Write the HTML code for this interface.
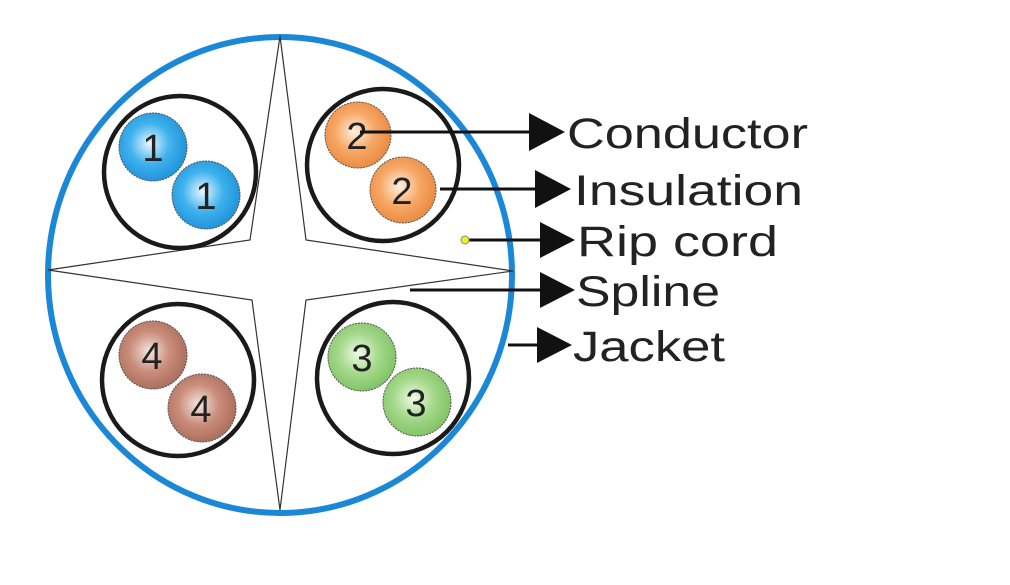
<!DOCTYPE html>
<html><head><style>html,body{margin:0;padding:0;background:#fff;}svg{display:block}</style></head>
<body>
<svg width="1010" height="585" viewBox="0 0 1010 585" xmlns="http://www.w3.org/2000/svg">
<defs>
<radialGradient id="gb" cx="45%" cy="45%" r="60%"><stop offset="0" stop-color="#e8f6ff"/><stop offset="0.5" stop-color="#3fb2ee"/><stop offset="1" stop-color="#1a8fd6"/></radialGradient>
<radialGradient id="go" cx="45%" cy="45%" r="60%"><stop offset="0" stop-color="#fff0e0"/><stop offset="0.5" stop-color="#f7a866"/><stop offset="1" stop-color="#e8863e"/></radialGradient>
<radialGradient id="gr" cx="45%" cy="45%" r="60%"><stop offset="0" stop-color="#f6e6e0"/><stop offset="0.5" stop-color="#c98d7a"/><stop offset="1" stop-color="#a86a58"/></radialGradient>
<radialGradient id="gg" cx="45%" cy="45%" r="60%"><stop offset="0" stop-color="#f0fbe8"/><stop offset="0.5" stop-color="#a4d88a"/><stop offset="1" stop-color="#7cc160"/></radialGradient>
</defs>
<ellipse cx="280" cy="275" rx="232" ry="238" fill="none" stroke="#1a88d6" stroke-width="6"/>
<polygon points="280,36 306,240 513,271 306,300 280,510 252,300 48,270 250,240" fill="#fff" stroke="#333" stroke-width="1.2"/>
<g fill="none" stroke="#1a1a1a" stroke-width="4.5">
<circle cx="180" cy="172" r="76"/><circle cx="383" cy="165" r="76"/>
<circle cx="178" cy="380" r="76"/><circle cx="393" cy="378" r="76"/>
</g>
<g stroke="#555" stroke-width="1" stroke-dasharray="2,1">
<circle cx="153" cy="147" r="34" fill="url(#gb)"/><circle cx="206" cy="195" r="34" fill="url(#gb)"/>
<circle cx="358" cy="135" r="33" fill="url(#go)"/><circle cx="403" cy="190" r="33" fill="url(#go)"/>
<circle cx="153" cy="355" r="34" fill="url(#gr)"/><circle cx="202" cy="408" r="34" fill="url(#gr)"/>
<circle cx="362" cy="357" r="34" fill="url(#gg)"/><circle cx="417" cy="402" r="34" fill="url(#gg)"/>
</g>
<g font-family="Liberation Sans, sans-serif" font-size="38" fill="#222" text-anchor="middle">
<text x="153" y="161">1</text><text x="206" y="209">1</text>
<text x="357" y="149">2</text><text x="402" y="204">2</text>
<text x="152" y="369">4</text><text x="201" y="422">4</text>
<text x="362" y="371">3</text><text x="416" y="416">3</text>
</g>
<g stroke="#111" stroke-width="3">
<line x1="360" y1="132" x2="535" y2="132"/>
<line x1="440" y1="189" x2="540" y2="189"/>
<line x1="465" y1="240" x2="545" y2="240"/>
<line x1="410" y1="290" x2="545" y2="290"/>
<line x1="508" y1="345" x2="540" y2="345"/>
</g>
<circle cx="465" cy="240" r="4" fill="#f3f020" stroke="#888" stroke-width="1"/>
<g fill="#111">
<polygon points="529,113 565,132 529,151"/>
<polygon points="535,170 571,189 535,208"/>
<polygon points="540,222 575,240 540,258"/>
<polygon points="540,272 575,290 540,308"/>
<polygon points="537,327 572,345 537,363"/>
</g>
<g font-family="Liberation Sans, sans-serif" font-size="43" fill="#222" lengthAdjust="spacingAndGlyphs">
<text x="567" y="148" textLength="241" lengthAdjust="spacingAndGlyphs">Conductor</text>
<text x="574" y="205" textLength="229" lengthAdjust="spacingAndGlyphs">Insulation</text>
<text x="577" y="256" textLength="201" lengthAdjust="spacingAndGlyphs">Rip cord</text>
<text x="576" y="306" textLength="144" lengthAdjust="spacingAndGlyphs">Spline</text>
<text x="573" y="361" textLength="152" lengthAdjust="spacingAndGlyphs">Jacket</text>
</g>
</svg>
</body></html>
